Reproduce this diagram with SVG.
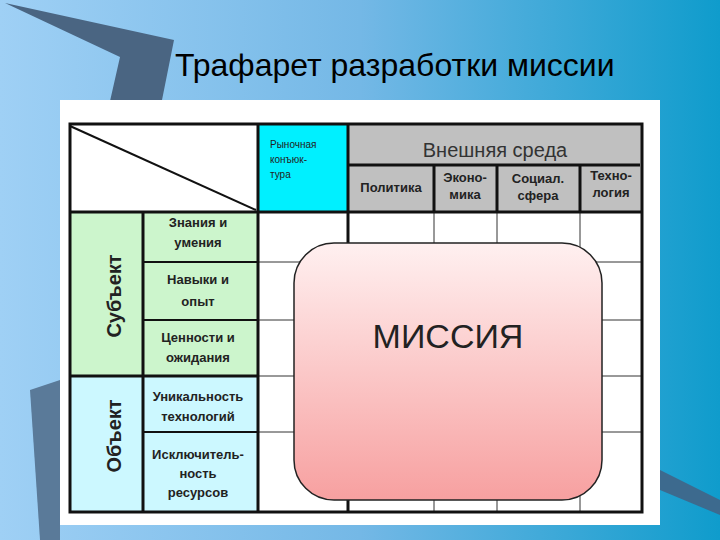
<svg xmlns="http://www.w3.org/2000/svg" width="720" height="540" viewBox="0 0 720 540">
<defs>
<linearGradient id="bg" x1="0" y1="0" x2="1" y2="0"><stop offset="0" stop-color="#9fd0f5"/><stop offset="0.5" stop-color="#74b8e6"/><stop offset="1" stop-color="#0f9ccc"/></linearGradient>
<linearGradient id="pink" x1="0" y1="0" x2="0" y2="1"><stop offset="0" stop-color="#fff0f0"/><stop offset="1" stop-color="#f7a0a0"/></linearGradient>
<style>
.b{font-family:"Liberation Sans",Arial,sans-serif;font-weight:bold;font-size:13px;fill:#222;text-anchor:middle}
.g{stroke:#333;stroke-width:1;fill:none}
.k{stroke:#111;stroke-width:3;fill:none}
</style>
</defs>
<rect width="720" height="540" fill="url(#bg)"/>
<polygon points="5,3 174,40 160,110 108,110 120,57" fill="#4a6582"/>
<polygon points="30,390 60,380 60,540 40,540" fill="#5a7a99"/>
<polygon points="660,470 720,500 720,515 660,490" fill="#3d6a8e"/>
<text x="175" y="76" font-family="Liberation Sans,Arial,sans-serif" font-size="32" fill="#000">Трафарет разработки миссии</text>
<rect x="60" y="100" width="600" height="425" fill="#fff"/>
<g id="header">
<rect x="258" y="124" width="90" height="88" fill="#00f0ff"/>
<rect x="348" y="124" width="294" height="88" fill="#c0c0c0"/>
<line x1="70" y1="126" x2="256" y2="210" stroke="#111" stroke-width="2"/>
<text x="270" y="148" font-family="Liberation Sans,Arial,sans-serif" font-size="10" fill="#222"><tspan x="270">Рыночная</tspan><tspan x="270" dy="15">конъюк-</tspan><tspan x="270" dy="15">тура</tspan></text>
<text x="495" y="157" font-family="Liberation Sans,Arial,sans-serif" font-size="20" fill="#333" text-anchor="middle">Внешняя среда</text>
<text class="b" x="391" y="192">Политика</text>
<text class="b" x="465" y="182"><tspan x="465">Эконо-</tspan><tspan x="465" dy="17">мика</tspan></text>
<text class="b" x="538" y="183"><tspan x="538">Социал.</tspan><tspan x="538" dy="17">сфера</tspan></text>
<text class="b" x="611" y="180"><tspan x="611">Техно-</tspan><tspan x="611" dy="17">логия</tspan></text>
<path class="k" d="M348 165H640M434 165V212M497 165V212M580 165V212"/>
</g>
<g id="subject">
<rect x="70" y="212" width="188" height="164" fill="#ccf5cc"/>
<text font-family="Liberation Sans,Arial,sans-serif" font-weight="bold" font-size="20" fill="#222" text-anchor="middle" transform="translate(121,296) rotate(-90)">Субъект</text>
<text class="b" x="198" y="227"><tspan x="198">Знания и</tspan><tspan x="198" dy="20">умения</tspan></text>
<text class="b" x="198" y="284"><tspan x="198">Навыки и</tspan><tspan x="198" dy="22">опыт</tspan></text>
<text class="b" x="198" y="342"><tspan x="198">Ценности и</tspan><tspan x="198" dy="20">ожидания</tspan></text>
</g>
<g id="object">
<rect x="70" y="376" width="188" height="136" fill="#ccf8ff"/>
<text font-family="Liberation Sans,Arial,sans-serif" font-weight="bold" font-size="20" fill="#222" text-anchor="middle" transform="translate(121,436) rotate(-90)">Объект</text>
<text class="b" x="198" y="401"><tspan x="198">Уникальность</tspan><tspan x="198" dy="20">технологий</tspan></text>
<text class="b" x="198" y="459"><tspan x="198">Исключитель-</tspan><tspan x="198" dy="19">ность</tspan><tspan x="198" dy="19">ресурсов</tspan></text>
</g>
<g id="grid">
<path class="g" d="M258 262H642M258 320H642M258 376H642M258 432H642M434 212V512M497 212V512M580 212V512"/>
<path stroke="#111" stroke-width="2" fill="none" d="M143 262H258M143 320H258M143 432H258"/>
<path class="k" d="M143 212V512M70 376H258M348 124V512M258 124V512M70 212H642"/>
<rect class="k" x="70" y="124" width="572" height="388"/>
</g>
<g id="mission">
<rect x="294" y="243" width="308" height="257" rx="40" fill="url(#pink)" stroke="#222" stroke-width="1.5"/>
<text x="448" y="348" font-family="Liberation Sans,Arial,sans-serif" font-size="34" fill="#222" text-anchor="middle">МИССИЯ</text>
</g>
</svg>
